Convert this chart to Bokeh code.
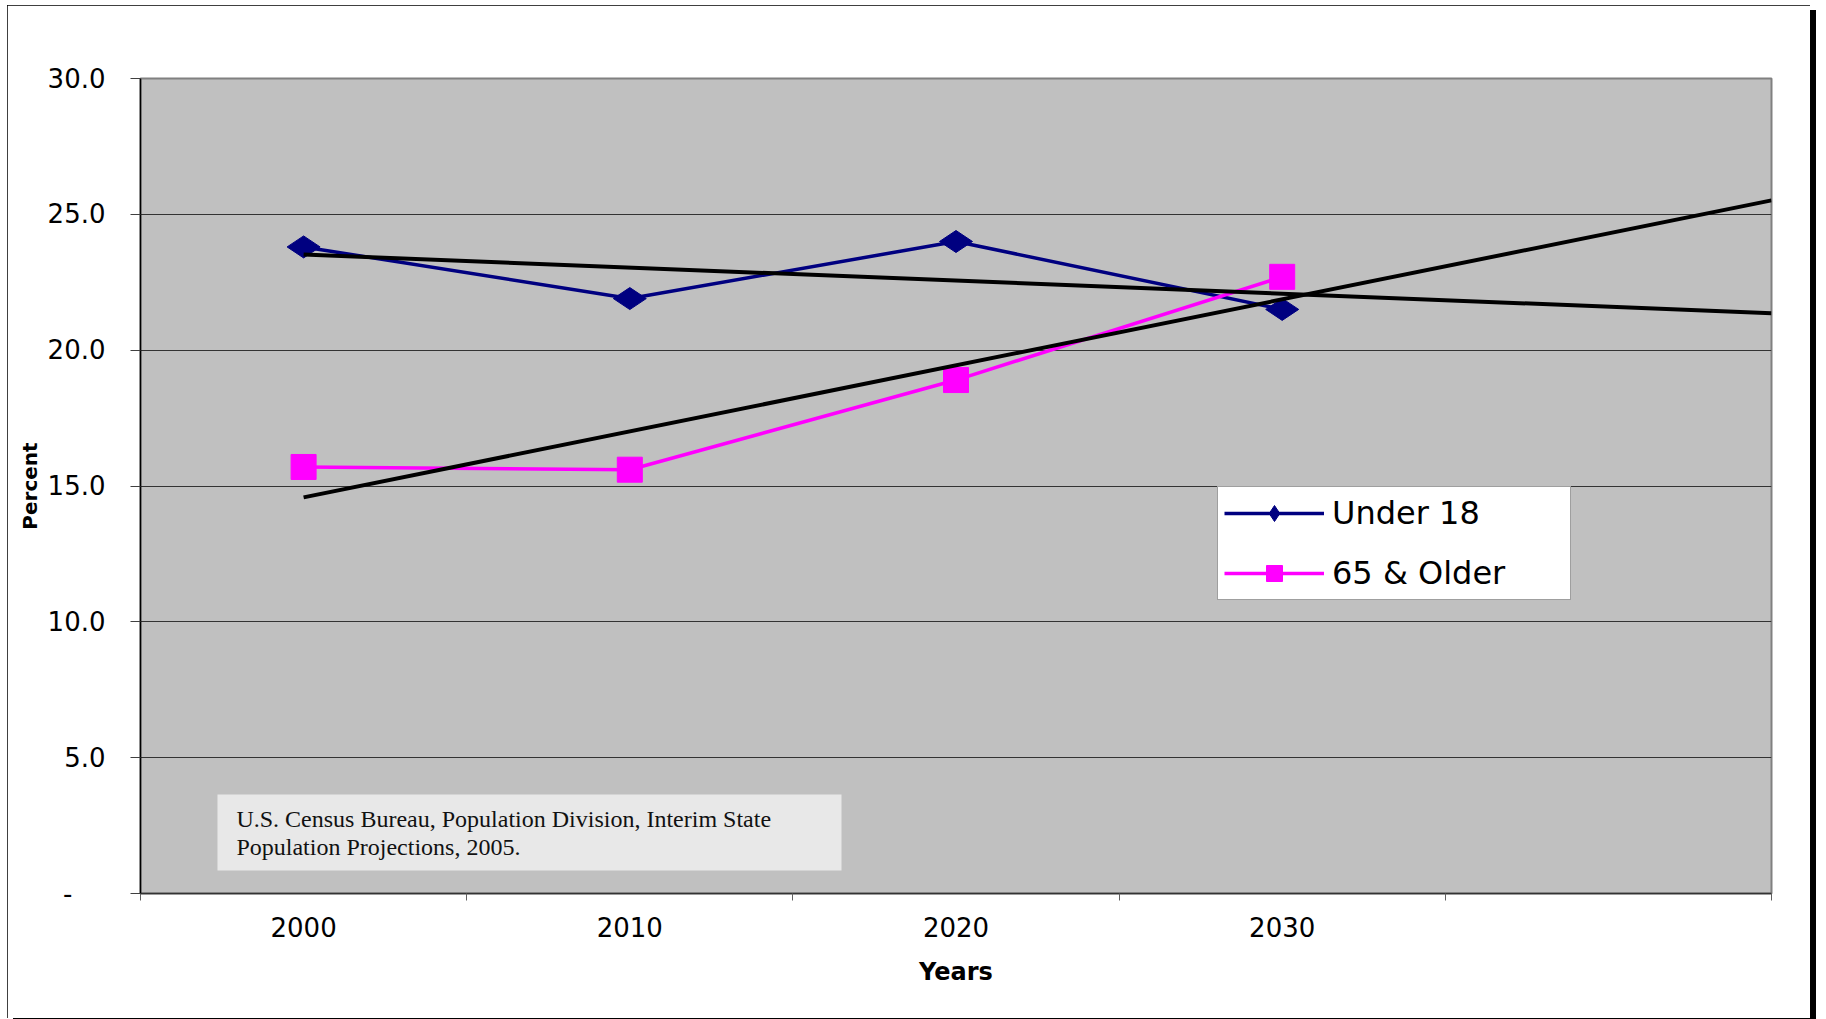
import math
import numpy as np
from bokeh.plotting import figure
from bokeh.models import (FixedTicker, Legend, LegendItem, BoxAnnotation, Label, Range1d)
from bokeh.embed import file_html
from bokeh.resources import INLINE

# Share of the population by age group (percent)
years = ["2000", "2010", "2020", "2030"]
under_18 = [23.8, 21.9, 24.0, 21.5]
age_65_older = [15.7, 15.6, 18.9, 22.7]
series_names = ["Under 18", "65 & Older"]

y_ticks = [0, 5, 10, 15, 20, 25, 30]
y_tick_labels = ["-", "5.0", "10.0", "15.0", "20.0", "25.0", "30.0"]

source_note = [
    "U.S. Census Bureau, Population Division, Interim State",
    "Population Projections, 2005.",
]

SANS = "DejaVu Sans"
SERIF = "Liberation Serif"
NAVY = "#000080"
MAGENTA = "#FF00FF"

# category slots: one per year plus an empty slot on the right
pos = list(range(1, len(years) + 1))
n_slots = len(years) + 1

p = figure(
    width=1803, height=1013,
    x_range=Range1d(0.5, n_slots + 0.5),
    y_range=Range1d(0, 30),
    output_backend="svg", toolbar_location=None,
    min_border_left=133, min_border_right=39,
    min_border_top=73, min_border_bottom=125,
)
p.margin = (5, 0, 0, 7)
p.styles = {
    "outline": "2px solid #000000",
    "outline-offset": "-2px",
    "box-shadow": "6px 5px 0 0 #000000",
}
p.background_fill_color = "#C0C0C0"
p.border_fill_color = "#FFFFFF"
p.outline_line_color = "#808080"
p.outline_line_width = 2

# grid
p.xgrid.visible = False
p.ygrid.grid_line_color = "#333333"
p.ygrid.grid_line_width = 1

# y axis
p.yaxis.ticker = FixedTicker(ticks=y_ticks)
labels = list(y_tick_labels)
labels[0] = labels[0] + "\u00a0" * 4
p.yaxis.major_label_overrides = {t: s for t, s in zip(y_ticks, labels)}
p.yaxis.minor_tick_line_color = None
p.yaxis.major_tick_out = 10
p.yaxis.major_tick_in = 0
p.yaxis.major_tick_line_color = "#404040"
p.yaxis.axis_line_color = "#000000"
p.yaxis.axis_line_width = 1.5
p.yaxis.major_label_standoff = 25
p.yaxis.major_label_text_font = SANS
p.yaxis.major_label_text_font_size = "26px"
p.yaxis.major_label_text_color = "#000000"
p.yaxis.axis_label = "Percent"
p.yaxis.axis_label_text_font = SANS
p.yaxis.axis_label_text_font_size = "20px"
p.yaxis.axis_label_text_font_style = "bold"
p.yaxis.axis_label_text_color = "#000000"
p.yaxis.axis_label_standoff = 3

# x axis: labels at slot centres, tick marks between slots
p.xaxis.ticker = FixedTicker(ticks=pos, minor_ticks=[i + 0.5 for i in range(n_slots + 1)])
p.xaxis.major_label_overrides = {i: y for i, y in zip(pos, years)}
p.xaxis.major_tick_out = 0
p.xaxis.major_tick_in = 0
p.xaxis.minor_tick_out = 7
p.xaxis.minor_tick_in = 0
p.xaxis.minor_tick_line_color = "#606060"
p.xaxis.axis_line_color = "#333333"
p.xaxis.axis_line_width = 1.5
p.xaxis.major_label_standoff = 16
p.xaxis.major_label_text_font = SANS
p.xaxis.major_label_text_font_size = "26px"
p.xaxis.major_label_text_color = "#000000"
p.xaxis.axis_label = "Years"
p.xaxis.axis_label_text_font = SANS
p.xaxis.axis_label_text_font_size = "24px"
p.xaxis.axis_label_text_font_style = "bold"
p.xaxis.axis_label_text_color = "#000000"
p.xaxis.axis_label_standoff = 18

# data series
l1 = p.line(pos, under_18, line_color=NAVY, line_width=3.5)
s1 = p.scatter(pos, under_18, marker="diamond", size=33, angle=math.pi / 2,
               fill_color=NAVY, line_color=NAVY)
l2 = p.line(pos, age_65_older, line_color=MAGENTA, line_width=3.5)
s2 = p.scatter(pos, age_65_older, marker="square", size=25,
               fill_color=MAGENTA, line_color=MAGENTA)

# linear trend lines, extended to the right edge of the plot
x_arr = np.array(pos, dtype=float)
x_end = n_slots + 0.5
for vals in (under_18, age_65_older):
    slope, icpt = np.polyfit(x_arr, np.array(vals), 1)
    xs = [x_arr[0], x_end]
    p.line(xs, [icpt + slope * v for v in xs], line_color="#000000", line_width=4)

# legend
legend = Legend(
    items=[LegendItem(label=series_names[0], renderers=[l1, s1]),
           LegendItem(label=series_names[1], renderers=[l2, s2])],
    location=(1077, 293),
    orientation="vertical",
    padding=6, spacing=20, margin=0,
    glyph_width=100, glyph_height=40, label_height=40,
    label_standoff=8, label_width=232,
    label_text_font=SANS, label_text_font_size="32px",
    label_text_color="#000000", label_text_baseline="middle",
    border_line_color="#404040", border_line_width=1.5,
    background_fill_color="#FFFFFF", background_fill_alpha=1.0,
)
p.add_layout(legend, "center")

# source note box
p.add_layout(BoxAnnotation(left=0.736, right=2.649, bottom=0.847, top=3.644,
                           fill_color="#E8E8E8", fill_alpha=1.0, line_color=None))
for text, yb in zip(source_note, (2.733, 1.702)):
    p.add_layout(Label(x=0.794, y=yb, text=text, text_font=SERIF,
                       text_font_size="24px", text_color="#111111",
                       text_baseline="alphabetic", text_align="left"))

open("out.html", "w").write(file_html(p, INLINE))
